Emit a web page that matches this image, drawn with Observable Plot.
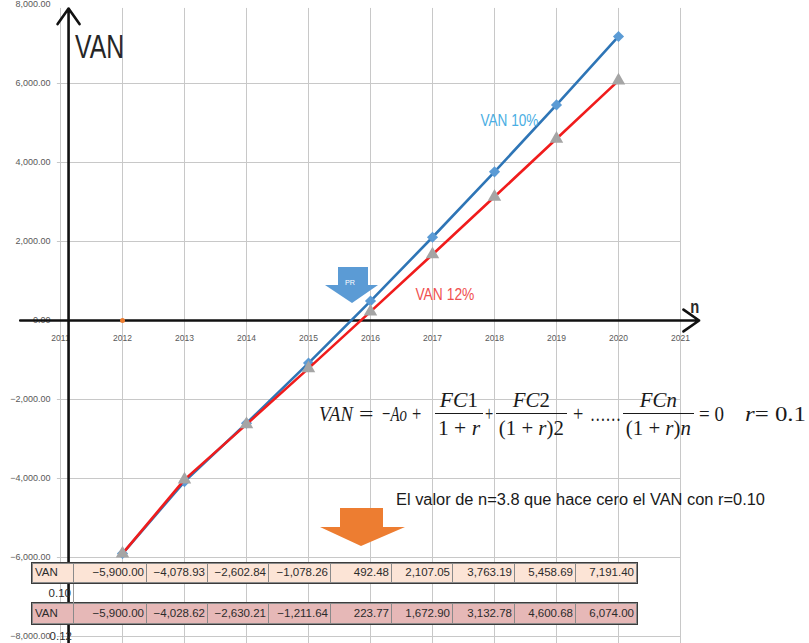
<!DOCTYPE html>
<html><head><meta charset="utf-8">
<script src="https://cdn.jsdelivr.net/npm/d3@7"></script>
<script src="https://cdn.jsdelivr.net/npm/@observablehq/plot@0.6"></script>
<style>
html,body{margin:0;padding:0;background:#fff;}
#wrap{position:relative;width:809px;height:643px;overflow:hidden;font-family:"Liberation Sans",Arial,sans-serif;}
#wrap > svg{position:absolute;left:0;top:0;}
.piece{position:absolute;white-space:nowrap;display:inline-flex;align-items:center;font-family:"Liberation Serif",serif;font-size:22px;color:#1a1a1a;transform-origin:0 50%;line-height:1.1;}
.frac{display:inline-flex;flex-direction:column;align-items:stretch;text-align:center;}
.num{border-bottom:1.4px solid #1a1a1a;padding:0 3px 1px;}
.den{padding:2px 3px 0;}
.cell{position:absolute;box-sizing:border-box;font-size:11.5px;color:#2b2b2b;line-height:1;display:flex;align-items:center;white-space:nowrap;}
</style></head>
<body><div id="wrap"></div>
<script>
// ---- data ----
const years = [2012, 2013, 2014, 2015, 2016, 2017, 2018, 2019, 2020];
const van10 = [-5900.00, -4078.93, -2602.84, -1078.26, 492.48, 2107.05, 3763.19, 5458.69, 7191.40];
const van12 = [-5900.00, -4028.62, -2630.21, -1211.64, 223.77, 1672.90, 3132.78, 4600.68, 6074.00];
const rates = [0.10, 0.12];
const xTickLabels = [2011, 2012, 2013, 2014, 2015, 2016, 2017, 2018, 2019, 2020, 2021];
const yTickValues = [-8000, -6000, -4000, -2000, 0, 2000, 4000, 6000, 8000];
const seriesLabels = ["VAN 10%", "VAN 12%"];
const rowLabel = "VAN";
const titleText = "VAN";
const axisNameX = "n";
const prText = "PR";
const noteText = "El valor de n=3.8 que hace cero el VAN con r=0.10";
const formulaRate = "0.1";

const fmt = d3.format(",.2f");
const d10 = years.map((year, i) => ({year, v: van10[i]}));
const d12 = years.map((year, i) => ({year, v: van12[i]}));

const axisArrows = [
  {x1: 2010.35, y1: 0, x2: 2021.3, y2: 0},
  {x1: 2011.13, y1: -8300, x2: 2011.13, y2: 7900}
];
const annotations = [
  {x: 2018.24, y: 5063, text: seriesLabels[0], color: "#4aaee3", size: 16, weight: "normal"},
  {x: 2017.20, y: 658, text: seriesLabels[1], color: "#f05050", size: 16, weight: "normal"},
  {x: 2021.23, y: 354, text: axisNameX, color: "#2a2a2a", size: 19, weight: "bold"}
];
const fits = {"VAN 10%": 58, "VAN 12%": 59, "n": 9};

const wrap = document.getElementById("wrap");

const chart = Plot.plot({
  width: 809, height: 643,
  marginLeft: 60, marginRight: 129, marginTop: 4, marginBottom: 7,
  x: {domain: [2011, 2021], axis: null},
  y: {domain: [-8000, 8000], axis: null},
  style: {fontFamily: "'Liberation Sans', Arial, sans-serif", background: "transparent", overflow: "hidden"},
  marks: [
    Plot.ruleX(xTickLabels, {x: d => d, y1: -8300, y2: 7900, stroke: "#c8c8c8", strokeWidth: 1}),
    Plot.ruleY(yTickValues.filter(d => d < 8000), {y: d => d, x1: 2010.95, x2: 2021, stroke: "#c8c8c8", strokeWidth: 1}),
    Plot.text(yTickValues, {x: 2011, y: d => d, text: d => fmt(d), textAnchor: "end", dx: -10, fontSize: 9, fill: "#595959"}),
    Plot.text(xTickLabels, {x: d => d, y: 0, text: d => String(d), dy: 18, fontSize: 8.5, fill: "#595959"}),
    Plot.arrow(axisArrows, {x1: "x1", y1: "y1", x2: "x2", y2: "y2", stroke: "#111", strokeWidth: 2.6, headLength: 11, headAngle: 70}),
    Plot.line(d10, {x: "year", y: "v", stroke: "#2e75b6", strokeWidth: 2.6}),
    Plot.dot(d10, {x: "year", y: "v", symbol: "diamond2", r: 5, fill: "#5b9bd5"}),
    Plot.line(d12, {x: "year", y: "v", stroke: "#f01c1c", strokeWidth: 2.6}),
    Plot.dot(d12, {x: "year", y: "v", symbol: "triangle", r: 5, fill: "#a5a5a5"}),
    Plot.dot([{year: years[0], v: 0}], {x: "year", y: "v", r: 2.5, fill: "#ed7d31"}),
    Plot.text(annotations, {x: "x", y: "y", text: "text", fill: "color", fontSize: d => d.size, fontWeight: d => d.weight})
  ]
});
wrap.appendChild(chart);
d3.select(chart).selectAll("text").each(function() {
  const t = this.textContent;
  if (fits[t]) { this.setAttribute("textLength", fits[t]); this.setAttribute("lengthAdjust", "spacingAndGlyphs"); }
});
// font-size via channel may not apply; enforce
d3.select(chart).selectAll("text").each(function() {
  const a = annotations.find(a => a.text === this.textContent);
  if (a) { this.setAttribute("font-size", a.size); this.style.fontSize = a.size + "px"; this.setAttribute("font-weight", a.weight); }
});

// ---- overlay: arrows, title, note ----
const prArrow = [[338,267],[368,267],[368,285],[378,285],[352,303],[325,285],[338,285]];
const orangeArrow = [[340,508],[383,508],[383,527],[405,527],[361,546],[320,527],[340,527]];
const ov = d3.select(wrap).append("svg").attr("width", 809).attr("height", 643);
ov.append("polygon").attr("points", prArrow.map(p => p.join(",")).join(" ")).attr("fill", "#5b9bd5");
ov.append("text").attr("x", 350).attr("y", 285).attr("text-anchor", "middle").attr("font-size", 8)
  .attr("fill", "#fff").attr("font-family", "Liberation Sans").attr("textLength", 10).attr("lengthAdjust", "spacingAndGlyphs").text(prText);
ov.append("polygon").attr("points", orangeArrow.map(p => p.join(",")).join(" ")).attr("fill", "#ed7d31");
ov.append("text").attr("x", 75).attr("y", 58).attr("font-size", 34).attr("fill", "#262626")
  .attr("font-family", "Liberation Sans").attr("textLength", 49).attr("lengthAdjust", "spacingAndGlyphs").text(titleText);
ov.append("text").attr("x", 396).attr("y", 505).attr("font-size", 16).attr("fill", "#1a1a1a")
  .attr("font-family", "Liberation Sans").attr("textLength", 369).attr("lengthAdjust", "spacingAndGlyphs").text(noteText);

// ---- formula ----
const frac = (n, d) => `<span class="frac"><span class="num">${n}</span><span class="den">${d}</span></span>`;
const formulaParts = [
  ["<i>VAN</i>", 319, 353],
  ["=", 359, 373],
  ["−<i>Ao</i>", 382, 407],
  ["+", 412, 421],
  [frac("<i>FC</i>1", "1 + <i>r</i>"), 435, 483],
  ["+", 485, 493],
  [frac("<i>FC</i>2", "(1 + <i>r</i>)2"), 496, 567],
  ["+", 573, 583],
  ["……", 590, 621],
  [frac("<i>FCn</i>", "(1 + <i>r</i>)<i>n</i>"), 623, 694],
  ["= 0", 699, 724],
  [`<i>r</i> = ${formulaRate}`, 745, 806]
];
formulaParts.forEach(([html, x0, x1]) => {
  const el = document.createElement("div");
  el.className = "piece";
  el.innerHTML = html;
  wrap.appendChild(el);
  const w = el.offsetWidth, h = el.offsetHeight;
  el.style.left = x0 + "px";
  el.style.top = (414 - h / 2) + "px";
  el.style.transform = `scaleX(${(x1 - x0) / w})`;
});

// ---- table ----
const colEdges = [32, 73, 146, 207, 268, 330, 391, 452, 514, 575, 636];
function tableRow(top, h, bg, vals) {
  for (let c = 0; c < colEdges.length - 1; c++) {
    const d = document.createElement("div");
    d.className = "cell";
    d.style.left = colEdges[c] + "px";
    d.style.top = top + "px";
    d.style.width = (colEdges[c + 1] - colEdges[c] + 1) + "px";
    d.style.height = h + "px";
    d.style.background = bg;
    d.style.border = "1px solid #8a8a8a";
    d.style.justifyContent = c === 0 ? "flex-start" : "flex-end";
    d.style.padding = c === 0 ? "0 0 0 2px" : "0 2px 0 0";
    d.textContent = c === 0 ? rowLabel : fmt(vals[c - 1]);
    wrap.appendChild(d);
  }
  const o = document.createElement("div");
  o.style.cssText = `position:absolute;box-sizing:border-box;left:${colEdges[0] - 1}px;top:${top - 1}px;width:${colEdges[colEdges.length - 1] - colEdges[0] + 3}px;height:${h + 2}px;border:1.5px solid #3c3c3c;`;
  wrap.appendChild(o);
}
tableRow(563, 20, "#fce4d6", van10);
tableRow(603, 21, "#e6b8b7", van12);
function rateCell(top, h, val, border) {
  const d = document.createElement("div");
  d.className = "cell";
  d.style.left = colEdges[0] + "px";
  d.style.top = top + "px";
  d.style.width = (colEdges[1] - colEdges[0] + 1) + "px";
  d.style.height = h + "px";
  d.style.justifyContent = "flex-end";
  d.style.padding = "0 2px 0 0";
  if (border) d.style.borderRight = "1px solid #9a9a9a";
  d.textContent = d3.format(".2f")(val);
  wrap.appendChild(d);
}
rateCell(584, 19, rates[0], true);
rateCell(628, 18, rates[1], false);
</script>
</body></html>
